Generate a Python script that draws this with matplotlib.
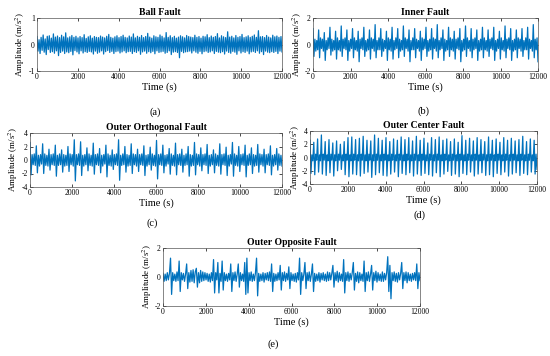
import numpy as np
import matplotlib
matplotlib.use('Agg')
import matplotlib.pyplot as plt

plt.rcParams['font.family'] = ['Liberation Serif', 'DejaVu Serif']
plt.rcParams['mathtext.fontset'] = 'stix'
plt.rcParams['axes.unicode_minus'] = False

# vibration samples, one every 50 s
ball = [.30,-.25,.18,-.34,.27,-.22,.36,-.29,.21,-.38,.31,-.19,.33,-.30,.24,-.27,.40,-.33,.28,-.24,.32,-.42,.26,-.30,.35,-.25,.29,-.34,.44,-.28,
        .25,-.31,.29,-.26,.34,-.39,.27,-.23,.31,-.28,.25,-.35,.30,-.24,.26,-.32,.37,-.27,.23,-.30,.29,-.26,.33,-.28,.24,-.36,.30,-.25,.27,-.33,
        .26,-.29,.32,-.24,.28,-.36,.25,-.27,.31,-.23,.38,-.30,.27,-.26,.24,-.34,.29,-.27,.33,-.25,.26,-.32,.30,-.28,.35,-.24,.27,-.31,.25,-.27,
        .32,-.26,.28,-.34,.40,-.27,.25,-.30,.31,-.24,.27,-.37,.34,-.28,.26,-.25,.30,-.33,.42,-.27,.28,-.31,.24,-.26,.33,-.35,.29,-.24,.27,-.30,
        .36,-.28,.31,-.26,.25,-.33,.45,-.30,.27,-.24,.33,-.38,.26,-.29,.31,-.27,.24,-.30,.28,-.50,.33,-.26,.29,-.31,.25,-.28,.34,-.27,.30,-.25,
        .28,-.32,.26,-.24,.35,-.29,.27,-.33,.30,-.26,.24,-.35,.31,-.27,.29,-.25,.37,-.30,.26,-.28,.32,-.24,.27,-.34,.30,-.26,.41,-.29,.25,-.31,
        .33,-.27,.29,-.36,.26,-.25,.48,-.30,.28,-.33,.31,-.26,.25,-.29,.34,-.37,.27,-.24,.30,-.32,.38,-.27,.26,-.30,.29,-.25,.33,-.35,.27,-.28,
        .31,-.26,.36,-.30,.27,-.24,.52,-.33,.29,-.27,.30,-.38,.26,-.25,.34,-.29,.28,-.31,.25,-.27,.35,-.30,.29,-.26,.32,-.34,.27,-.25,.30,-.28]

inner = [1.2,-.9,.4,-.5,.3,-.4,1.1,-1.0,.5,-.3,.4,-.5,.9,-1.2,.3,-.4,.5,-.3,1.3,-.8,.4,-.5,.3,-.4,1.0,-1.1,.5,-.4,.3,-.5,
         1.4,-.9,.4,-.3,.5,-.4,1.1,-1.2,.3,-.5,.4,-.3,1.2,-1.0,.5,-.4,.3,-.5,1.0,-1.3,.4,-.3,.5,-.4,1.3,-.9,.3,-.5,.4,-.4,
         1.1,-1.1,.5,-.3,.4,-.5,1.5,-1.0,.3,-.4,.5,-.4,1.2,-.9,.4,-.5,.3,-.3,1.0,-1.2,.5,-.4,.4,-.5,1.3,-1.1,.3,-.4,.5,-.3,
         1.2,-1.0,.4,-.5,.3,-.4,1.4,-.9,.5,-.3,.4,-.5,1.1,-1.3,.3,-.4,.5,-.4,1.2,-1.0,.4,-.3,.3,-.5,1.0,-1.2,.5,-.4,.4,-.3,
         1.3,-.9,.3,-.5,.4,-.4,1.2,-1.1,.5,-.3,.4,-.5,1.5,-1.0,.3,-.4,.5,-.3,1.1,-1.2,.4,-.5,.3,-.4,1.3,-.9,.5,-.4,.4,-.5,
         1.0,-1.1,.4,-.3,.5,-.4,1.2,-1.3,.3,-.5,.4,-.4,1.4,-.9,.5,-.3,.3,-.5,1.2,-1.0,.4,-.4,.5,-.3,1.1,-1.2,.3,-.5,.4,-.4,
         1.3,-1.0,.5,-.4,.3,-.5,1.1,-.9,.4,-.3,.5,-.4,1.3,-1.2,.3,-.5,.4,-.3,1.0,-1.1,.5,-.4,.3,-.5,1.4,-1.0,.4,-.3,.5,-.4,
         1.2,-1.2,.3,-.5,.4,-.4,1.1,-1.0,.5,-.3,.4,-.5,1.2,-.9,.3,-.4,.5,-.4,1.3,-1.1,.4,-.3,.3,-.5,1.5,-1.0,.4,-.4,.5,-1.3]

orthogonal = [2.6,-2.2,.8,-.7,.9,-.8,2.1,-1.9,.7,-.9,.8,-.6,2.4,-2.0,.9,-.8,.7,-.9,1.6,-1.5,.8,-.7,.9,-.8,2.2,-2.4,.7,-.8,.9,-.7,
              1.5,-1.8,.8,-.9,.7,-.8,2.0,-1.7,.9,-.7,.8,-.9,3.0,-3.1,.8,-.7,.9,-.8,2.7,-2.3,.7,-.9,.8,-.7,1.8,-1.6,.9,-.8,.7,-.9,
              2.5,-2.1,.8,-.7,.9,-.8,1.7,-1.9,.7,-.9,.8,-.6,2.2,-2.5,.9,-.8,.7,-.9,1.5,-1.4,.8,-.7,.9,-.8,3.0,-3.0,.7,-.8,.9,-.7,
              2.0,-1.8,.8,-.9,.7,-.8,2.4,-2.0,.9,-.7,.8,-.9,1.6,-1.7,.8,-.7,.9,-.8,2.1,-2.3,.7,-.9,.8,-.7,1.9,-1.5,.9,-.8,.7,-.9,
              2.9,-2.8,.8,-.7,.9,-.8,2.2,-1.9,.7,-.9,.8,-.6,1.7,-2.1,.9,-.8,.7,-.9,2.5,-2.2,.8,-.7,.9,-.8,1.6,-1.8,.7,-.8,.9,-.7,
              2.0,-2.4,.8,-.9,.7,-.8,2.6,-2.2,.9,-.7,.8,-.9,1.8,-1.6,.8,-.7,.9,-.8,2.3,-2.0,.7,-.9,.8,-.7,1.5,-1.9,.9,-.8,.7,-.9,
              2.4,-2.1,.8,-.7,.9,-.8,1.9,-2.3,.7,-.9,.8,-.6,2.6,-2.4,.9,-.8,.7,-.9,2.0,-1.7,.8,-.7,.9,-.8,2.2,-2.5,.7,-.8,.9,-.7,
              1.8,-2.0,.8,-.9,.7,-.8,2.3,-1.8,.9,-.7,.8,-.9,1.6,-1.9,.8,-.7,.9,-.8,2.1,-2.2,.7,-.9,.8,-.7,1.7,-1.5,.9,-.8,.7,-.9]

center = [2.6,-2.4,.4,-.5,2.3,-2.6,.5,-.4,2.8,-2.2,.4,-.5,3.4,-2.5,.5,-.4,2.4,-2.7,.4,-.5,2.7,-2.3,.5,-.4,2.2,-2.8,.4,-.5,2.5,-2.0,
          .5,-.4,2.0,-1.8,.4,-.5,2.4,-2.6,.5,-.4,3.0,-2.9,.4,-.5,3.1,-2.5,.5,-.4,2.7,-2.6,.4,-.5,2.9,-2.8,.5,-.4,3.2,-2.4,.4,-.5,
          2.6,-2.2,.5,-.4,2.5,-3.0,.4,-.5,3.4,-2.6,.5,-.4,2.9,-2.3,.4,-.5,2.6,-2.7,.5,-.4,3.0,-2.8,.4,-.5,2.4,-2.5,.5,-.4,2.8,-2.2,
          .4,-.5,2.6,-2.9,.5,-.4,3.1,-2.4,.4,-.5,2.7,-2.6,.5,-.4,3.0,-2.3,.4,-.5,2.5,-2.8,.5,-.4,3.2,-2.5,.4,-.5,2.6,-2.7,.5,-.4,
          2.9,-2.4,.4,-.5,2.2,-2.6,.5,-.4,3.0,-2.8,.4,-.5,2.7,-2.3,.5,-.4,3.1,-2.9,.4,-.5,2.6,-2.5,.5,-.4,2.8,-2.1,.4,-.5,2.4,-2.7,
          .5,-.4,2.8,-2.5,.4,-.5,2.3,-2.9,.5,-.4,3.3,-2.4,.4,-.5,2.6,-2.6,.5,-.4,2.9,-2.2,.4,-.5,2.5,-2.8,.5,-.4,3.0,-2.5,.4,-.5,
          2.7,-2.3,.5,-.4,2.4,-2.7,.4,-.5,3.1,-2.6,.5,-.4,2.6,-2.9,.4,-.5,2.8,-2.4,.5,-.4,2.3,-2.6,.4,-.5,3.0,-2.2,.5,-.4,2.6,-2.8,
          .4,-.5,2.9,-2.5,.5,-.4,2.5,-2.3,.4,-.5,2.7,-2.7,.5,-.4,3.2,-2.4,.4,-.5,2.4,-2.6,.5,-.4,2.8,-2.2,.4,-.5,2.6,-2.5,.5,-1.8]

opposite = [.25,-.3,.2,-.25,.3,-.2,.25,1.3,-1.2,.3,-.25,.2,-.3,.35,-.25,1.1,-1.0,.3,-.2,.25,-.3,.2,.9,-.8,.3,-.35,.45,-.3,.5,-.4,
            .35,.6,-.7,.3,-.4,.45,-.3,.35,-.25,.3,-.2,.25,-.3,.2,-.35,.3,-.25,1.2,-1.1,.3,-.2,1.0,-1.1,.25,-.3,1.1,-.9,.3,-.25,.2,
            -.3,.25,-.2,.9,-1.0,.3,-.25,.35,-.3,.2,.9,-.7,.3,-.25,.2,-.3,1.0,-1.2,1.3,-1.1,.3,-.25,.35,-.3,.2,-.25,.3,1.3,-1.3,.25,
            -.3,.2,-.25,.3,-.35,.25,-.2,.3,-.25,.35,-.3,.9,-1.0,.25,-.3,.2,-.25,.3,-.2,.8,-.9,.3,-.25,.35,-.3,.25,-.2,.7,-.8,.3,
            -.25,.2,-.3,.25,-.35,.3,-.2,1.3,-1.2,.3,-.25,.2,1.0,-.8,.3,-.25,.35,-.3,.2,.9,-1.0,.25,-.3,.2,-.25,.3,-.35,.25,-.2,.3,
            -.25,.2,-.3,.35,-.25,.3,-.2,.25,.8,-.7,.3,-.25,.4,-.35,.3,-.25,.2,-.3,1.2,-1.1,.3,-.25,.35,-.3,.25,-.2,.3,1.0,-.9,.25,
            -.3,.35,-.4,.3,-.25,.2,-.3,1.1,-1.0,.3,-.25,.35,-.3,.2,.8,-.9,.3,-.25,.4,-.35,.3,-.25,.2,-.3,.35,-.3,.25,-.2,.3,1.4,
            -1.0,.8,-1.5,.3,-.25,.35,-.3,.25,-.35,.3,-.2,.25,1.0,-.8,.3,-.25,.35,-.4,.3,-.25,.2,-.3,.25,-.2,.3,-.25,.9,-.8,.3,-.25]

titles = ['Ball Fault', 'Inner Fault', 'Outer Orthogonal Fault', 'Outer Center Fault', 'Outer Opposite Fault']
tags = ['(a)', '(b)', '(c)', '(d)', '(e)']
signals = [ball, inner, orthogonal, center, opposite]
ylims = [1, 2, 4, 4, 2]
yticks = [[-1, 0, 1], [-2, 0, 2], [-4, -2, 0, 2, 4], [-4, -2, 0, 2, 4], [-2, 0, 2]]

# axes boxes in pixels: left, top, right, bottom
boxes = [(37, 18, 282, 71), (313, 18, 538, 71), (30, 133, 282, 187),
         (310, 131, 537, 184), (163, 248, 420, 306)]
# gap in pixels between y label's right edge and the axes
ylab_gap = [10, 9, 10, 8.5, 9]
tag_xy = [(155, 112), (423, 111), (152, 223), (420, 215), (273, 344)]

W, H = 550, 356
fig = plt.figure(figsize=(W / 100, H / 100), dpi=100)
blue = '#0072bd'

for i in range(5):
    l, t, r, b = boxes[i]
    ax = fig.add_axes([l / W, 1 - b / H, (r - l) / W, (b - t) / H])
    y = np.array(signals[i])
    x = np.arange(len(y)) * 12000 / (len(y) - 1)
    ax.plot(x, y, color=blue, lw=0.9)
    ax.set_xlim(0, 12000)
    ax.set_ylim(-ylims[i], ylims[i])
    ax.set_xticks(range(0, 12001, 2000))
    ax.set_yticks(yticks[i])
    ax.tick_params(direction='in', top=True, right=True, labelsize=5.5,
                   length=2, width=0.5, pad=1.5)
    for s in ax.spines.values():
        s.set_linewidth(0.5)
        s.set_color('#555555')
    ax.set_title(titles[i], fontsize=7, fontweight='bold', pad=2)
    ax.set_xlabel('Time (s)', fontsize=7.5, labelpad=1)
    ax.set_ylabel('Amplitude (m/s$^2$)', fontsize=6.5)
    ax.yaxis.set_label_coords(-ylab_gap[i] / (r - l), 0.5)
    fig.text(tag_xy[i][0] / W, 1 - tag_xy[i][1] / H, tags[i], fontsize=7.5,
             ha='center', va='center')

fig.savefig('out.png', dpi=100)
